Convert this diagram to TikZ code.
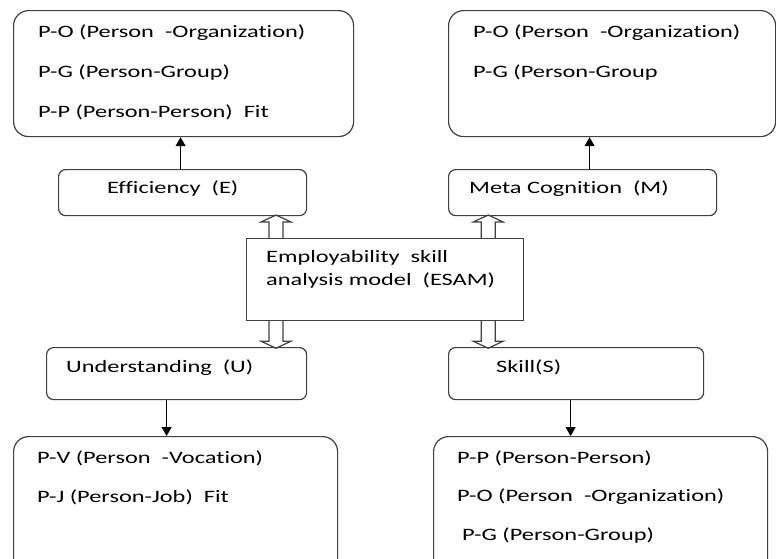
\documentclass[tikz,border=0pt]{standalone}
\usepackage{fontspec}
\setmainfont{Carlito}[FakeStretch=1.4, Ligatures=NoCommon]
\usetikzlibrary{arrows.meta}

\begin{document}
\begin{tikzpicture}[x=1pt,y=1pt]
\tikzstyle{box} = [draw=black!75, line width=1.2pt, rounded corners=7pt, inner sep=0, anchor=north west]
\tikzstyle{bigbox} = [box, rounded corners=15pt]
\tikzstyle{plainbox} = [box, sharp corners]
\tikzstyle{txt} = [inner sep=0, anchor=base west, font=\fontsize{17.4}{20}\selectfont]
\tikzstyle{link} = [-{Triangle[length=9pt,width=10pt]}, line width=1pt]
\tikzstyle{hollow} = [draw=black!75, line width=1.2pt, line join=miter]

\useasboundingbox (0,0) rectangle (776,-558);
\clip (0,0) rectangle (776,-558);

% Riquadri grandi: nome/x/y/larghezza/altezza
\foreach \name/\x/\y/\w/\h in {tl/13/-10/340/126, tr/448/-10/327/126,
                               bl/13/-436/324/150, br/433/-436/334/150} {
  \node[bigbox, minimum width=\w, minimum height=\h] (\name) at (\x,\y) {};
}

% Riquadri piccoli
\foreach \name/\x/\y/\w/\h in {eff/58/-169/248/46, meta/448/-169/268/46,
                               und/46/-347/260/52, skl/448/-347/255/52} {
  \node[box, minimum width=\w, minimum height=\h] (\name) at (\x,\y) {};
}

% Modello centrale
\node[plainbox, minimum width=277, minimum height=82] (esam) at (246,-238) {};

% Testi
\foreach \t [count=\i] in {{P-O (Person \ -Organization)}, {P-G (Person-Group)}, {P-P (Person-Person) \ Fit}}
  \node[txt] (tl-\i) at (38,{-37-40*(\i-1)}) {\t};
\foreach \t [count=\i] in {{P-O (Person \ -Organization)}, {P-G (Person-Group}}
  \node[txt] (tr-\i) at (473,{-37-40*(\i-1)}) {\t};
\foreach \t [count=\i] in {{P-V (Person \ -Vocation)}, {P-J (Person-Job) \ Fit}}
  \node[txt] (bl-\i) at (37,{-463-39*(\i-1)}) {\t};
\foreach \t/\x [count=\i] in {{P-P (Person-Person)}/457, {P-O (Person \ -Organization)}/457, {P-G (Person-Group)}/462}
  \node[txt] (br-\i) at (\x,{-463-38.5*(\i-1)}) {\t};
\foreach \t [count=\i] in {{Employability \ skill}, {analysis model \ (ESAM)}}
  \node[txt] (esam-\i) at (266,{-262-23*(\i-1)}) {\t};

\node[txt] (eff-t) at (107,-193) {Efficiency \ (E)};
\node[txt] (meta-t) at (469,-193) {Meta Cognition \ (M)};
\node[txt] (und-t) at (66,-372) {Understanding \ (U)};
\node[txt] (skl-t) at (496,-372) {Skill(S)};

% Frecce sottili
\draw[link] ([xshift=-2pt]eff.north) -- ([xshift=-2pt]eff.north |- tl.south);
\draw[link] ([xshift=7pt]meta.north) -- ([xshift=7pt]meta.north |- tr.south);
\draw[link] ([xshift=-10pt]und.south) -- ([xshift=-10pt]und.south |- bl.north);
\draw[link] ([xshift=-5.5pt]skl.south) -- ([xshift=-5.5pt]skl.south |- br.north);

% Frecce vuote dal modello
\coordinate (up-l) at ([xshift=30pt]esam.north west);
\coordinate (up-r) at ([xshift=-36pt]esam.north east);
\coordinate (dn-l) at ([xshift=30pt]esam.south west);
\coordinate (dn-r) at ([xshift=-36pt]esam.south east);
\foreach \c/\s/\l in {up-l/1/16, up-r/1/16, dn-l/-1/20, dn-r/-1/20} {
  \draw[hollow] ([xshift=-7pt]\c) -- ++(0,{\s*\l}) -- ++(-8,0) -- ++(15,{\s*7})
    -- ++(15,{-(\s)*7}) -- ++(-8,0) -- ++(0,{-(\s)*\l});
}

\end{tikzpicture}
\end{document}
